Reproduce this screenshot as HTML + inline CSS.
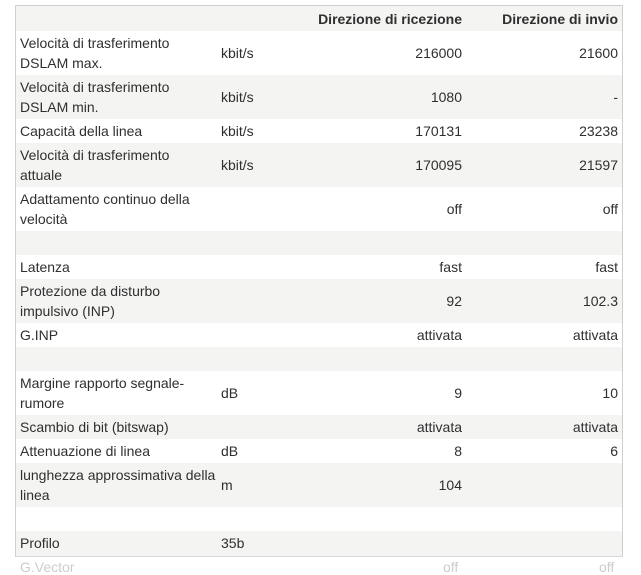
<!DOCTYPE html>
<html><head><meta charset="utf-8"><style>
body{margin:0;width:641px;height:567px;background:#fff;overflow:hidden;font-family:"Liberation Sans",sans-serif;font-size:14px;color:#2f2f2f;position:relative}
.box{position:absolute;left:15px;top:5px;width:606px;height:550px;border:1px solid #cfcfcf;border-bottom:1px solid #d8d8d8;overflow:hidden}
.r{position:absolute;left:0;width:606px}
.g{background:#f4f4f3}
.c{position:absolute;line-height:20px}
.l{left:4px;width:200px}
.u{left:205px}
.a{right:160px;text-align:right}
.b{right:4px;text-align:right}
.h{font-weight:bold}
.fade{position:absolute;top:560px;color:#ccc;font-size:14px;line-height:14px}
</style></head><body>
<div class="box">
<div class="r g" style="top:0;height:25px"><div class="c a h" style="top:3px">Direzione di ricezione</div><div class="c b h" style="top:3px">Direzione di invio</div></div>
<div class="r" style="top:25px;height:44px"><div class="c l" style="top:2px">Velocità di trasferimento<br>DSLAM max.</div><div class="c u" style="top:12px">kbit/s</div><div class="c a" style="top:12px">216000</div><div class="c b" style="top:12px">21600</div></div>
<div class="r g" style="top:69px;height:44px"><div class="c l" style="top:2px">Velocità di trasferimento<br>DSLAM min.</div><div class="c u" style="top:12px">kbit/s</div><div class="c a" style="top:12px">1080</div><div class="c b" style="top:12px">-</div></div>
<div class="r" style="top:113px;height:24px"><div class="c l" style="top:2px">Capacità della linea</div><div class="c u" style="top:2px">kbit/s</div><div class="c a" style="top:2px">170131</div><div class="c b" style="top:2px">23238</div></div>
<div class="r g" style="top:137px;height:44px"><div class="c l" style="top:2px">Velocità di trasferimento<br>attuale</div><div class="c u" style="top:12px">kbit/s</div><div class="c a" style="top:12px">170095</div><div class="c b" style="top:12px">21597</div></div>
<div class="r" style="top:181px;height:44px"><div class="c l" style="top:2px">Adattamento continuo della<br>velocità</div><div class="c a" style="top:12px">off</div><div class="c b" style="top:12px">off</div></div>
<div class="r g" style="top:225px;height:24px"></div>
<div class="r" style="top:249px;height:24px"><div class="c l" style="top:2px">Latenza</div><div class="c a" style="top:2px">fast</div><div class="c b" style="top:2px">fast</div></div>
<div class="r g" style="top:273px;height:44px"><div class="c l" style="top:2px">Protezione da disturbo<br>impulsivo (INP)</div><div class="c a" style="top:12px">92</div><div class="c b" style="top:12px">102.3</div></div>
<div class="r" style="top:317px;height:24px"><div class="c l" style="top:2px">G.INP</div><div class="c a" style="top:2px">attivata</div><div class="c b" style="top:2px">attivata</div></div>
<div class="r g" style="top:341px;height:24px"></div>
<div class="r" style="top:365px;height:44px"><div class="c l" style="top:2px">Margine rapporto segnale-<br>rumore</div><div class="c u" style="top:12px">dB</div><div class="c a" style="top:12px">9</div><div class="c b" style="top:12px">10</div></div>
<div class="r g" style="top:409px;height:24px"><div class="c l" style="top:2px">Scambio di bit (bitswap)</div><div class="c a" style="top:2px">attivata</div><div class="c b" style="top:2px">attivata</div></div>
<div class="r" style="top:433px;height:24px"><div class="c l" style="top:2px">Attenuazione di linea</div><div class="c u" style="top:2px">dB</div><div class="c a" style="top:2px">8</div><div class="c b" style="top:2px">6</div></div>
<div class="r g" style="top:457px;height:44px"><div class="c l" style="top:2px">lunghezza approssimativa della<br>linea</div><div class="c u" style="top:12px">m</div><div class="c a" style="top:12px">104</div></div>
<div class="r" style="top:501px;height:24px"></div>
<div class="r g" style="top:525px;height:25px"><div class="c l" style="top:2px">Profilo</div><div class="c u" style="top:2px">35b</div></div>
</div>
<div class="fade" style="left:20px">G.Vector</div>
<div class="fade" style="left:443px">off</div>
<div class="fade" style="left:599px">off</div>
</body></html>
